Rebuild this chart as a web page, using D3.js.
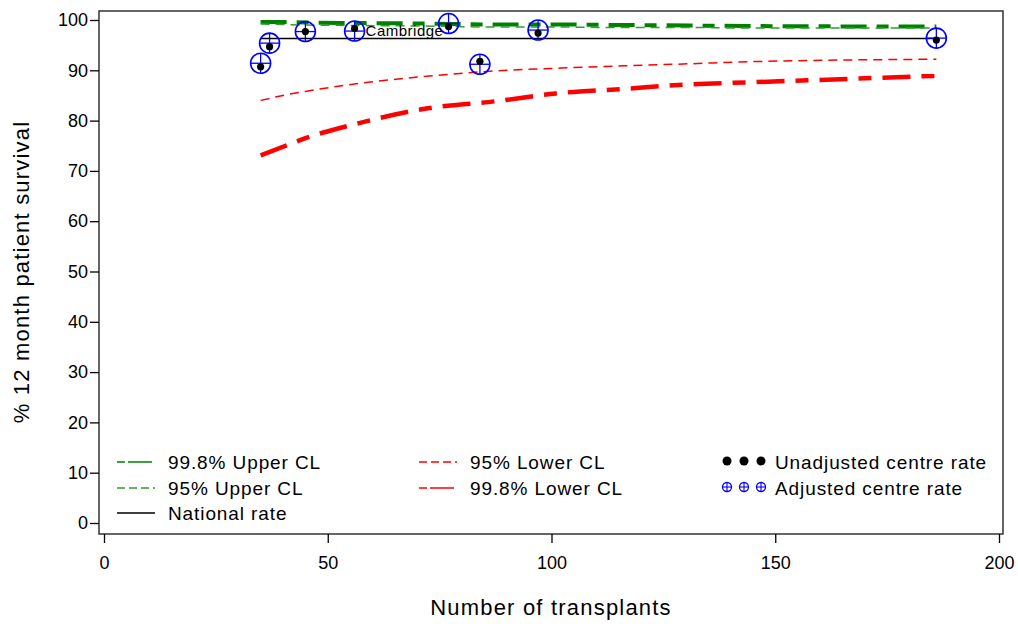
<!DOCTYPE html>
<html>
<head>
<meta charset="utf-8">
<script src="https://cdn.jsdelivr.net/npm/d3@7"></script>
<style>
body { margin: 0; background: #fff; }
text { font-family: "Liberation Sans", Arial, sans-serif; fill: #000; }
</style>
</head>
<body>
<div id="chart"></div>
<script>
// funnel plot, 12 month patient survival by centre
var svgWidth = 1018;
var svgHeight = 624;

// control limit curves
var clN = [35, 40, 45, 57, 72, 88, 101, 116, 131, 144, 186];
var upper998 = [99.6, 99.6, 99.5, 99.4, 99.3, 99.1, 99.1, 99.0, 98.9, 98.8, 98.7];
var upper95 = [99.2, 99.1, 99.0, 98.9, 98.8, 98.6, 98.6, 98.5, 98.5, 98.4, 98.4];
var lower95 = [84.0, 85.0, 85.8, 87.4, 88.8, 89.9, 90.4, 90.9, 91.3, 91.7, 92.2];
var lower998 = [73.1, 74.8, 76.5, 79.5, 82.4, 83.9, 85.4, 86.3, 87.2, 87.6, 88.9];

var nationalRate = 96.3;
var nationalRange = [35, 186];

// centres
var centreN = [35, 37, 45, 56, 77, 84, 97, 186];
var unadjusted = [90.7, 94.7, 97.7, 98.3, 98.7, 91.8, 97.4, 96.0];
var adjusted = [91.4, 95.4, 97.7, 97.8, 99.3, 91.2, 98.0, 96.4];
var centreLabels = ["", "", "", "Cambridge", "", "", "", ""];

var xTicks = [0, 50, 100, 150, 200];
var yTicks = [0, 10, 20, 30, 40, 50, 60, 70, 80, 90, 100];

var svg = d3.select("#chart")
    .append("svg")
    .attr("width", svgWidth)
    .attr("height", svgHeight);

var x = d3.scaleLinear().domain([0, 200]).range([104, 999]);
var y = d3.scaleLinear().domain([0, 100]).range([523, 20]);

var frame = {left: 99, top: 11, right: 1003, bottom: 534};

// line styles for the curves
var curves = [
    {name: "99.8% Upper CL", values: upper998, color: "#008000", width: 4, dash: "26,10,12,10"},
    {name: "95% Upper CL", values: upper95, color: "#2e9e2e", width: 1.5, dash: "9,6"},
    {name: "95% Lower CL", values: lower95, color: "#ff0000", width: 1.5, dash: "9,6"},
    {name: "99.8% Lower CL", values: lower998, color: "#ff0000", width: 4.5, dash: "28,11,13,11"}
];

var line = d3.line()
    .x(d => x(d[0]))
    .y(d => y(d[1]))
    .curve(d3.curveMonotoneX);

// frame
svg.append("rect")
    .attr("x", frame.left)
    .attr("y", frame.top)
    .attr("width", frame.right - frame.left)
    .attr("height", frame.bottom - frame.top)
    .attr("fill", "none")
    .attr("stroke", "#333")
    .attr("stroke-width", 1.5);

// axes
var leftAxis = d3.axisLeft(y).tickValues(yTicks).tickSize(9).tickPadding(2);
var yAxis = svg.append("g")
    .attr("transform", `translate(${frame.left}, 0)`)
    .call(leftAxis);
yAxis.select(".domain").remove();
yAxis.selectAll("line").attr("stroke", "#000").attr("stroke-width", 1.3);
yAxis.selectAll("text")
    .style("font-size", "18px")
    .style("font-family", "'Liberation Sans', Arial, sans-serif")
    .attr("fill", "#000");

var bottomAxis = d3.axisBottom(x).tickValues(xTicks).tickSize(9);
var xAxis = svg.append("g")
    .attr("transform", `translate(0, ${frame.bottom})`)
    .call(bottomAxis);
xAxis.select(".domain").remove();
xAxis.selectAll("line").attr("stroke", "#000").attr("stroke-width", 1.3);
xAxis.selectAll("text")
    .attr("y", 29)
    .attr("dy", "0.35em")
    .style("font-size", "18px")
    .style("font-family", "'Liberation Sans', Arial, sans-serif")
    .attr("fill", "#000");

// axis titles
svg.append("text")
    .attr("x", 551)
    .attr("y", 607)
    .attr("dy", "0.35em")
    .attr("text-anchor", "middle")
    .style("font-size", "22px")
    .style("letter-spacing", "1.2px")
    .text("Number of transplants");

svg.append("text")
    .attr("transform", "translate(21, 272) rotate(-90)")
    .attr("dy", "0.35em")
    .attr("text-anchor", "middle")
    .style("font-size", "22px")
    .style("letter-spacing", "1.2px")
    .text("% 12 month patient survival");

// control limits
curves.forEach(function(c) {
    svg.append("path")
        .datum(clN.map((n, i) => [n, c.values[i]]))
        .attr("d", line)
        .attr("fill", "none")
        .attr("stroke", c.color)
        .attr("stroke-width", c.width)
        .attr("stroke-dasharray", c.dash);
});

// national rate
svg.append("line")
    .attr("x1", x(nationalRange[0]))
    .attr("x2", x(nationalRange[1]))
    .attr("y1", y(nationalRate))
    .attr("y2", y(nationalRate))
    .attr("stroke", "#000")
    .attr("stroke-width", 1.5);

// adjusted centre rates: circle with a cross
var adj = svg.append("g").selectAll("g")
    .data(centreN.map((n, i) => ({n: n, v: adjusted[i]})))
    .enter()
    .append("g")
    .attr("transform", d => `translate(${x(d.n)}, ${y(d.v)})`);

adj.append("circle").attr("r", 10).attr("fill", "none").attr("stroke", "#0000ff").attr("stroke-width", 1.6);
adj.append("line").attr("x1", -10).attr("x2", 10).attr("stroke", "#0000ff").attr("stroke-width", 1.3);
adj.append("line").attr("y1", -10).attr("y2", 10).attr("stroke", "#0000ff").attr("stroke-width", 1.3);

// unadjusted centre rates
svg.append("g").selectAll("circle")
    .data(centreN.map((n, i) => ({n: n, v: unadjusted[i]})))
    .enter()
    .append("circle")
    .attr("cx", d => x(d.n))
    .attr("cy", d => y(d.v))
    .attr("r", 3.6)
    .attr("fill", "#000");

// centre labels
svg.append("g").selectAll("text")
    .data(centreN.map((n, i) => ({n: n, v: adjusted[i], label: centreLabels[i]})).filter(d => d.label))
    .enter()
    .append("text")
    .attr("x", d => x(d.n) + 11)
    .attr("y", d => y(d.v))
    .attr("dy", "0.35em")
    .style("font-size", "15px")
    .style("letter-spacing", "0.5px")
    .text(d => d.label);

// legend
var legendLines = [
    {curve: curves[0], x: 117, y: 462},
    {curve: curves[1], x: 117, y: 488},
    {name: "National rate", color: "#000", dash: null, x: 117, y: 513},
    {curve: curves[2], x: 419, y: 462},
    {curve: curves[3], x: 419, y: 488}
];

legendLines.forEach(function(l) {
    var c = l.curve || l;
    svg.append("line")
        .attr("x1", l.x)
        .attr("x2", l.x + 38)
        .attr("y1", l.y)
        .attr("y2", l.y)
        .attr("stroke", c.color)
        .attr("stroke-width", 1.4)
        .attr("stroke-dasharray", c.dash ? (c.width > 2 ? "8,3,24,3" : "8,4") : null);
    svg.append("text")
        .attr("x", l.x + 51)
        .attr("y", l.y)
        .attr("dy", "0.35em")
        .style("font-size", "19px")
        .style("letter-spacing", "0.9px")
        .text(c.name);
});

var markerX = [727, 744, 761];

svg.append("g").selectAll("circle")
    .data(markerX)
    .enter()
    .append("circle")
    .attr("cx", d => d)
    .attr("cy", 461)
    .attr("r", 4.5)
    .attr("fill", "#000");

var legAdj = svg.append("g").selectAll("g")
    .data(markerX)
    .enter()
    .append("g")
    .attr("transform", d => `translate(${d}, 487)`);
legAdj.append("circle").attr("r", 4.5).attr("fill", "none").attr("stroke", "#0000ff").attr("stroke-width", 1.3);
legAdj.append("line").attr("x1", -4.5).attr("x2", 4.5).attr("stroke", "#0000ff").attr("stroke-width", 1.1);
legAdj.append("line").attr("y1", -4.5).attr("y2", 4.5).attr("stroke", "#0000ff").attr("stroke-width", 1.1);

svg.append("text")
    .attr("x", 775)
    .attr("y", 462)
    .attr("dy", "0.35em")
    .style("font-size", "19px")
    .style("letter-spacing", "0.9px")
    .text("Unadjusted centre rate");

svg.append("text")
    .attr("x", 775)
    .attr("y", 488)
    .attr("dy", "0.35em")
    .style("font-size", "19px")
    .style("letter-spacing", "0.9px")
    .text("Adjusted centre rate");
</script>
</body>
</html>
